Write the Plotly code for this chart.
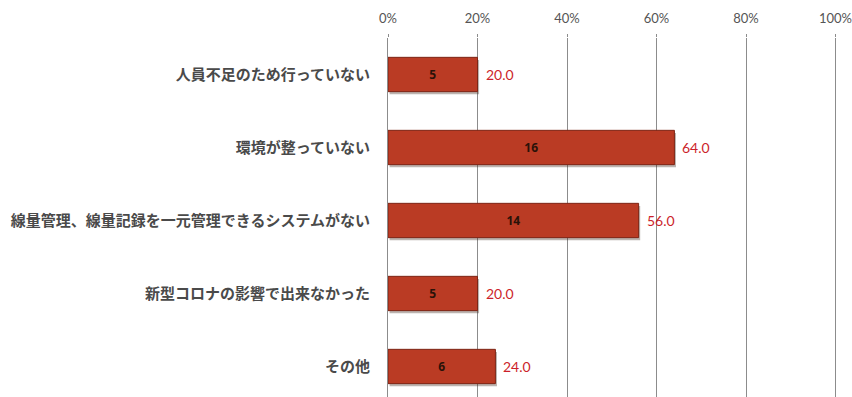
import plotly.graph_objects as go

# Survey: reasons for not doing dose management (n=25)
categories = [
    "人員不足のため行っていない",
    "環境が整っていない",
    "線量管理、線量記録を一元管理できるシステムがない",
    "新型コロナの影響で出来なかった",
    "その他",
]
counts = [5, 16, 14, 5, 6]
percents = [20.0, 64.0, 56.0, 20.0, 24.0]
tick_vals = [0, 20, 40, 60, 80, 100]
tick_text = ["0%", "20%", "40%", "60%", "80%", "100%"]

ypos = list(range(len(categories)))

fig = go.Figure()

# soft drop shadow under each bar
fig.add_trace(go.Bar(
    x=percents, y=ypos, orientation="h", width=0.47,
    base=0.35, offset=-0.2,
    marker=dict(color="rgba(60,40,30,0.35)", line=dict(width=0)),
    hoverinfo="skip", showlegend=False,
))

# main bars with counts inside
fig.add_trace(go.Bar(
    x=percents, y=ypos, orientation="h", width=0.47,
    marker=dict(color="#BA3B24", line=dict(color="#7E2515", width=1)),
    text=[str(c) for c in counts],
    textposition="inside", insidetextanchor="middle",
    textfont=dict(family="Noto Sans, Arial", size=12, color="#2a1208", weight="bold"),
    showlegend=False,
))

# percentage labels beyond bar ends
for y, p in zip(ypos, percents):
    fig.add_annotation(
        x=p, y=y, xref="x", yref="y", text=f"{p:.1f}",
        showarrow=False, xanchor="left", xshift=6,
        font=dict(family="Lato, Open Sans, sans-serif", size=14, color="#CC1F2B"),
    )

fig.update_layout(
    width=852, height=397,
    margin=dict(l=388, r=11.5, t=38, b=0),
    paper_bgcolor="white", plot_bgcolor="white",
    barmode="overlay",
    xaxis=dict(
        side="top", range=[0, 101], tickvals=tick_vals, ticktext=tick_text,
        showgrid=True, gridcolor="#8c8c8c", gridwidth=1,
        ticks="outside", ticklen=3, tickcolor="#8c8c8c",
        showline=False, zeroline=False, ticklabelstandoff=6,
        ticklabeloverflow="allow",
        tickfont=dict(family="Lato, Open Sans, sans-serif", size=13, color="#555555"),
    ),
    yaxis=dict(
        range=[4.418, -0.5], tickvals=ypos, ticktext=categories,
        showgrid=False, zeroline=False,
        showline=True, linecolor="#8c8c8c", linewidth=1,
        ticks="", ticklabelstandoff=14,
        tickfont=dict(family="Noto Sans CJK JP", size=15, color="#4a4a4a", weight="bold"),
    ),
)

fig.write_html("out.html")
